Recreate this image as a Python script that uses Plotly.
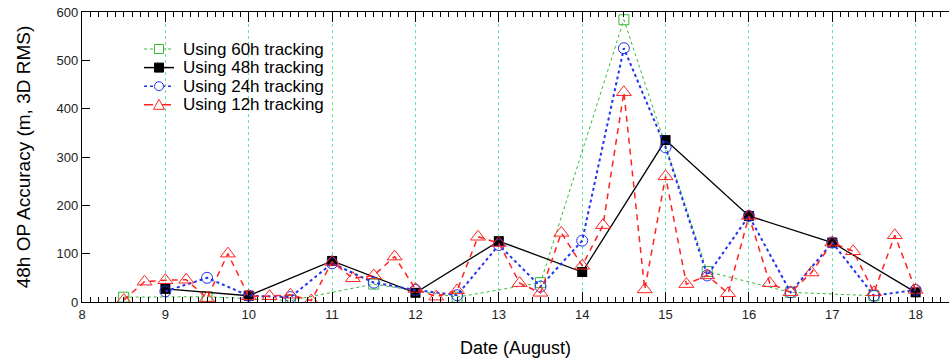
import plotly.graph_objects as go

# 60h tracking (half-day points)
x60 = [8.5, 9.5, 10.5, 11.5, 12.5, 13.5, 14.5, 15.5, 16.5, 17.5]
y60 = [10, 11, 3, 37, 10, 40, 584, 63, 20, 13]

# 48h tracking (daily points)
x48 = [9, 10, 11, 12, 13, 14, 15, 16, 17, 18]
y48 = [27, 13, 85, 19, 126, 62, 335, 178, 123, 20]

# 24h tracking (half-day points)
x24 = [9, 9.5, 10, 10.5, 11, 11.5, 12, 12.5, 13, 13.5, 14, 14.5, 15, 15.5,
       16, 16.5, 17, 17.5, 18]
y24 = [22, 50, 13, 10, 80, 40, 25, 14, 118, 32, 127, 525, 320, 55,
       178, 20, 123, 13, 25]

# 12h tracking (quarter-day points)
x12 = [8.5, 8.75, 9, 9.25, 9.5, 9.75, 10, 10.25, 10.5, 10.75, 11, 11.25,
       11.5, 11.75, 12, 12.25, 12.5, 12.75, 13, 13.25, 13.5, 13.75, 14,
       14.25, 14.5, 14.75, 15, 15.25, 15.5, 15.75, 16, 16.25, 16.5, 16.75,
       17, 17.25, 17.5, 17.75, 18]
y12 = [4, 42, 45, 46, 8, 100, 12, 12, 15, 3, 83, 49,
       55, 94, 27, 11, 24, 135, 122, 39, 19, 143, 75,
       159, 434, 26, 260, 37, 55, 18, 178, 39, 20, 61,
       123, 105, 20, 138, 25]

series_names = ["Using 60h tracking", "Using 48h tracking",
                "Using 24h tracking", "Using 12h tracking"]
xticks = list(range(8, 19))
yticks = list(range(0, 601, 100))

GREEN = "#33bb33"
BLUE = "#2233ee"
RED = "#ff2222"

W, H = 949, 363
ML, MR, MT, MB = 82, 0, 12, 61
PW, PH = W - ML - MR, H - MT - MB


def px(xp):
    return (xp - ML) / PW


def py(yp):
    return (H - MB - yp) / PH


fig = go.Figure()
fig.add_trace(go.Scatter(
    x=x60, y=y60, mode="lines+markers", name=series_names[0],
    line=dict(color=GREEN, width=1, dash="dot"),
    marker=dict(symbol="square-open", size=10, color=GREEN, line=dict(width=1))))
fig.add_trace(go.Scatter(
    x=x48, y=y48, mode="lines+markers", name=series_names[1],
    line=dict(color="black", width=1.3),
    marker=dict(symbol="square", size=10, color="black")))
fig.add_trace(go.Scatter(
    x=x24, y=y24, mode="lines+markers", name=series_names[2],
    line=dict(color=BLUE, width=2, dash="dot"),
    marker=dict(symbol="circle-open", size=11, color=BLUE, line=dict(width=1))))
fig.add_trace(go.Scatter(
    x=x12, y=y12, mode="lines+markers", name=series_names[3],
    line=dict(color=RED, width=1.5, dash="6px,5px"),
    marker=dict(symbol="triangle-up-open", size=13, color=RED, line=dict(width=1))))

# custom legend (layout decoration in paper coordinates)
shapes = []
annotations = []
row0, step = 49.0, 18.6
lx0, lx1, mx, tx = 144, 174, 159, 182
styles = [
    (GREEN, 1, "dot", "square-open"),
    ("black", 1.5, "solid", "square"),
    (BLUE, 1.5, "dot", "circle-open"),
    (RED, 1.5, "dash", "triangle-open"),
]
for i, (name, (col, lw, dash, sym)) in enumerate(zip(series_names, styles)):
    yc = row0 + step * i
    shapes.append(dict(type="line", xref="paper", yref="paper",
                       x0=px(lx0), x1=px(lx1), y0=py(yc), y1=py(yc),
                       line=dict(color=col, width=lw, dash=dash), layer="above"))
    r = 4.5
    if sym.startswith("square"):
        shapes.append(dict(type="rect", xref="paper", yref="paper",
                           x0=px(mx - r), x1=px(mx + r), y0=py(yc + r), y1=py(yc - r),
                           line=dict(color=col, width=1),
                           fillcolor=col if sym == "square" else "white", layer="above"))
    elif sym.startswith("circle"):
        shapes.append(dict(type="circle", xref="paper", yref="paper",
                           x0=px(mx - r), x1=px(mx + r), y0=py(yc + r), y1=py(yc - r),
                           line=dict(color=col, width=1), fillcolor="white", layer="above"))
    else:
        path = "M {} {} L {} {} L {} {} Z".format(
            px(mx - 5.5), py(yc + 4.5), px(mx + 5.5), py(yc + 4.5), px(mx), py(yc - 5.5))
        shapes.append(dict(type="path", xref="paper", yref="paper", path=path,
                           line=dict(color=col, width=1), fillcolor="white", layer="above"))
    annotations.append(dict(text=name, xref="paper", yref="paper",
                            x=px(tx), y=py(yc), xanchor="left", yanchor="middle",
                            showarrow=False, borderpad=0,
                            font=dict(size=17, color="black")))

font_family = "Liberation Sans, Arial, Helvetica, sans-serif"
fig.update_layout(
    width=W, height=H,
    margin=dict(l=ML, r=MR, t=MT, b=MB),
    plot_bgcolor="white", paper_bgcolor="white",
    font=dict(family=font_family, color="black"),
    showlegend=False,
    shapes=shapes,
    annotations=annotations,
    xaxis=dict(
        range=[8, 18.4], tickvals=xticks, ticktext=[str(v) for v in xticks],
        ticks="inside", ticklen=10, tickwidth=1.3, tickcolor="black",
        showline=True, linecolor="black", linewidth=1.3, mirror="ticks",
        showgrid=True, gridcolor="#66e6a0", griddash="dot", gridwidth=1.4,
        zeroline=False,
        minor=dict(dtick=0.1, tick0=8, ticks="inside", ticklen=5,
                   tickwidth=1, tickcolor="black", showgrid=False),
        tickfont=dict(size=13, color="#222"),
        title=dict(text="Date (August)", font=dict(size=18), standoff=20),
    ),
    yaxis=dict(
        range=[0, 600], tickvals=yticks,
        ticks="inside", ticklen=8, tickwidth=1.3, tickcolor="black",
        showline=True, linecolor="black", linewidth=1.3,
        showgrid=False, zeroline=False,
        tickfont=dict(size=13, color="#222"),
        title=dict(text="48h OP Accuracy (m, 3D RMS)", font=dict(size=19), standoff=20),
    ),
)

fig.write_html("out.html")
